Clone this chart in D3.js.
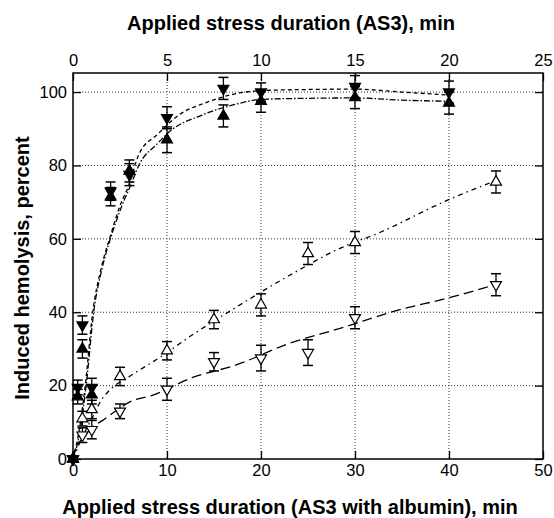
<!DOCTYPE html>
<html>
<head>
<meta charset="utf-8">
<script src="https://cdn.jsdelivr.net/npm/d3@7"></script>
<style>
  body { margin: 0; background: #fff; }
  text { font-family: "Liberation Sans", Arial, sans-serif; }
</style>
</head>
<body>
<div id="chart"></div>
<script>
// AS3 series (top axis, min)
var tAS3 = [0, 0.25, 0.5, 1, 2, 3, 5, 8, 10, 15, 20];
var as3Down = [0, 19.5, 36.5, 19.5, 73, 77.5, 93, 101, 100, 101.5, 100];
var as3DownErr = [0, 2, 2.5, 2.5, 2.5, 3, 3, 3, 2.5, 3, 3];
var as3Up = [0, 17, 30, 17.5, 71.5, 78.5, 87, 93.5, 97.5, 98.5, 97];
var as3UpErr = [0, 2, 2.5, 2.5, 2.5, 3, 3.5, 3, 3, 3, 3];

// AS3 with albumin (bottom axis, min)
var tAlb = [0, 1, 2, 5, 10, 15, 20, 25, 30, 45];
var albUp = [0, 11, 13.5, 22.5, 29.5, 38, 42, 56, 59, 75.5];
var albUpErr = [0, 2, 2.5, 2.5, 2.5, 2.5, 3, 3, 3, 3];
var albDown = [0, 6.5, 8, 13, 19, 26.5, 27.5, 29, 38.5, 47.5];
var albDownErr = [0, 2, 2.5, 2, 3, 2.5, 3.5, 3.5, 3, 3];

// fitted curves
var fitDownT = [0, 0.3, 0.65, 1.05, 1.5, 2, 2.5, 3, 3.5, 4.5, 5.7, 7, 8.7, 10, 12.5, 15, 17.5, 20];
var fitDownV = [0, 7, 20, 40, 52, 61, 69, 75, 83, 88.5, 94, 97, 99.6, 100.4, 100.7, 100.8, 100, 99.2];
var fitUpT = [0, 0.35, 0.7, 1.1, 1.55, 2.05, 2.6, 3.1, 3.5, 4.5, 5.2, 6.8, 8.9, 10, 12.5, 15, 17.5, 20];
var fitUpV = [0, 7, 20, 40, 52, 61, 69, 75, 80, 86, 89.5, 93.6, 97, 98, 98.3, 98.4, 97.8, 97.5];
var fitAlbUpT = [0, 1, 2, 3, 4, 6, 9.3, 12.8, 16.5, 23, 28.4, 32.7, 39.8, 44.5];
var fitAlbUpV = [0, 6, 11, 16, 19, 22.5, 27.8, 34, 40, 50, 57.4, 61.8, 70.5, 75.4];
var fitAlbDownT = [0, 0.3, 1, 2, 3.2, 4.5, 6, 8.5, 12.8, 17.2, 23, 28.4, 34.5, 39.8, 44.7];
var fitAlbDownV = [0, 3, 5.5, 8.5, 10.6, 13, 15.5, 17.4, 22.3, 25.5, 31.5, 35.6, 40.5, 43.8, 47.3];

var yTicks = [0, 20, 40, 60, 80, 100];
var topTicks = [0, 5, 10, 15, 20, 25];
var bottomTicks = [0, 10, 20, 30, 40, 50];

var width = 554, height = 518;
var margin = { top: 73, right: 11, bottom: 59, left: 73 };

var svg = d3.select("#chart").append("svg")
  .attr("width", width)
  .attr("height", height);

var xTop = d3.scaleLinear().domain([0, 25]).range([margin.left, width - margin.right]);
var xBot = d3.scaleLinear().domain([0, 50]).range([margin.left, width - margin.right]);
var y = d3.scaleLinear().domain([0, 105.2]).range([height - margin.bottom, margin.top]);

// grid
var grid = svg.append("g").attr("stroke", "#333").attr("stroke-width", 1).attr("stroke-dasharray", "1,2");
grid.selectAll(".gx").data([5, 10, 15, 20]).enter().append("line")
  .attr("x1", function(d) { return xTop(d); }).attr("x2", function(d) { return xTop(d); })
  .attr("y1", margin.top).attr("y2", height - margin.bottom);
grid.selectAll(".gy").data([20, 40, 60, 80, 100]).enter().append("line")
  .attr("x1", margin.left).attr("x2", width - margin.right)
  .attr("y1", function(d) { return y(d); }).attr("y2", function(d) { return y(d); });

// axes
function styleAxis(g) {
  g.selectAll("text").attr("font-size", 16.5).attr("fill", "#000");
  g.selectAll("line").attr("stroke-width", 1.3);
  g.select(".domain").remove();
}
svg.append("g").attr("transform", "translate(" + margin.left + ",0)")
  .call(d3.axisLeft(y).tickValues(yTicks).tickSizeInner(-8).tickSizeOuter(0).tickPadding(6))
  .call(styleAxis);
svg.append("g").attr("transform", "translate(" + (width - margin.right) + ",0)")
  .call(d3.axisRight(y).tickValues(yTicks).tickSizeInner(-8).tickSizeOuter(0).tickFormat(""))
  .call(styleAxis);
svg.append("g").attr("transform", "translate(0," + margin.top + ")")
  .call(d3.axisTop(xTop).tickValues(topTicks).tickSizeInner(-8).tickSizeOuter(0).tickPadding(7))
  .call(styleAxis);
svg.append("g").attr("transform", "translate(0," + (height - margin.bottom) + ")")
  .call(d3.axisBottom(xBot).tickValues(bottomTicks).tickSizeInner(-8).tickSizeOuter(0).tickPadding(5))
  .call(styleAxis);

// frame
svg.append("rect")
  .attr("x", margin.left).attr("y", margin.top)
  .attr("width", width - margin.left - margin.right)
  .attr("height", height - margin.top - margin.bottom)
  .attr("fill", "none").attr("stroke", "#000").attr("stroke-width", 1.5);

// fit curves
function fitLine(ts, vs, xs, dash) {
  var pts = ts.map(function(t, i) { return [xs(t), y(vs[i])]; });
  svg.append("path")
    .attr("d", d3.line().curve(d3.curveMonotoneX)(pts))
    .attr("fill", "none").attr("stroke", "#000").attr("stroke-width", 1.3)
    .attr("stroke-dasharray", dash);
}
fitLine(fitDownT, fitDownV, xTop, "4,3");
fitLine(fitUpT, fitUpV, xTop, "6,2,1.5,2");
fitLine(fitAlbUpT, fitAlbUpV, xBot, "5,4,1.5,4");
fitLine(fitAlbDownT, fitAlbDownV, xBot, "10,5");

// error bars + markers
var tri = d3.symbol().type(d3.symbolTriangle).size(52);
function series(ts, vs, errs, xs, down, filled) {
  var g = svg.append("g");
  ts.forEach(function(t, i) {
    var cx = xs(t), e = errs[i];
    if (e > 0) {
      var y1 = y(vs[i] + e), y2 = y(vs[i] - e);
      g.append("line").attr("x1", cx).attr("x2", cx).attr("y1", y1).attr("y2", y2)
        .attr("stroke", "#000").attr("stroke-width", 1.3);
      [y1, y2].forEach(function(yy) {
        g.append("line").attr("x1", cx - 5).attr("x2", cx + 5).attr("y1", yy).attr("y2", yy)
          .attr("stroke", "#000").attr("stroke-width", 1.5);
      });
    }
    g.append("path").attr("d", tri)
      .attr("transform", "translate(" + cx + "," + y(vs[i]) + ")" + (down ? " rotate(180)" : ""))
      .attr("fill", filled ? "#000" : "#fff")
      .attr("stroke", "#000").attr("stroke-width", 1.2);
  });
}
series(tAlb, albUp, albUpErr, xBot, false, false);
series(tAlb, albDown, albDownErr, xBot, true, false);
series(tAS3, as3Up, as3UpErr, xTop, false, true);
series(tAS3, as3Down, as3DownErr, xTop, true, true);

// titles
svg.append("text").attr("x", 291).attr("y", 30).attr("text-anchor", "middle")
  .attr("font-size", 20).attr("font-weight", "bold").text("Applied stress duration (AS3), min");
svg.append("text").attr("x", 290).attr("y", 514).attr("text-anchor", "middle")
  .attr("font-size", 20).attr("font-weight", "bold").text("Applied stress duration (AS3 with albumin), min");
svg.append("text").attr("transform", "translate(29," + 268 + ") rotate(-90)").attr("text-anchor", "middle")
  .attr("font-size", 20).attr("font-weight", "bold").text("Induced hemolysis, percent");
</script>
</body>
</html>
